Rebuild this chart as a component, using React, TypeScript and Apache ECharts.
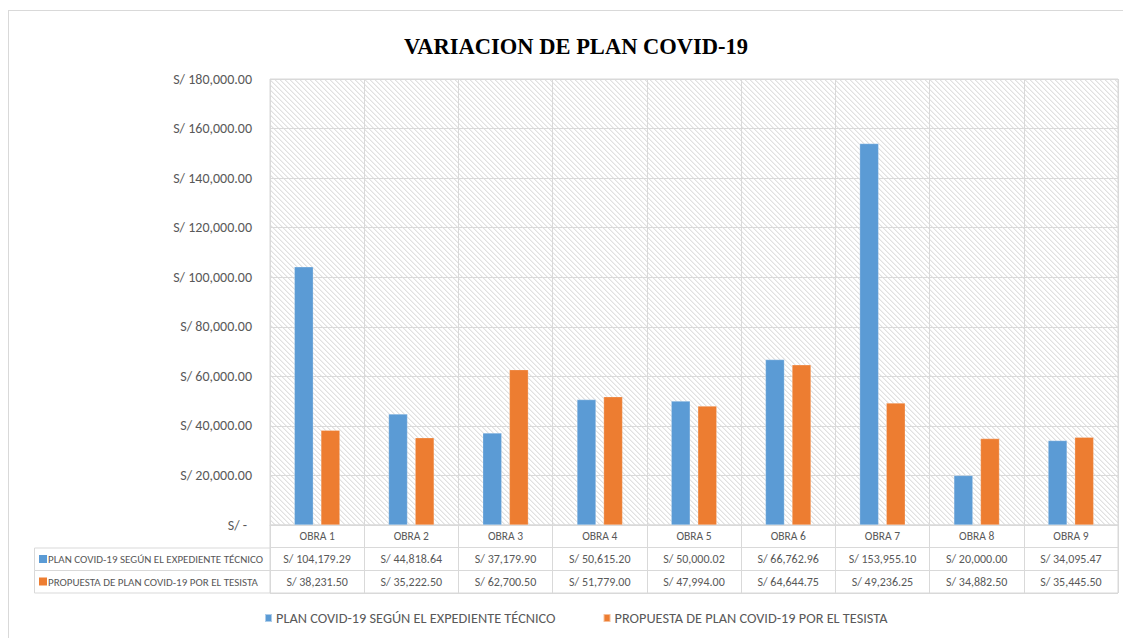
import React, { useEffect, useRef } from "react";
import * as echarts from "echarts";

const TITLE = "VARIACION DE PLAN COVID-19";
const categories = ["OBRA 1", "OBRA 2", "OBRA 3", "OBRA 4", "OBRA 5", "OBRA 6", "OBRA 7", "OBRA 8", "OBRA 9"];
const seriesNames = [
  "PLAN COVID-19 SEGÚN EL EXPEDIENTE TÉCNICO",
  "PROPUESTA DE PLAN COVID-19 POR EL TESISTA",
];
const expediente = [104179.29, 44818.64, 37179.9, 50615.2, 50000.02, 66762.96, 153955.1, 20000.0, 34095.47];
const tesista = [38231.5, 35222.5, 62700.5, 51779.0, 47994.0, 64644.75, 49236.25, 34882.5, 35445.5];
const seriesColors = ["#5B9BD5", "#ED7D31"];
const yMin = 0;
const yMax = 180000;
const yInterval = 20000;

const FONT = "Carlito, 'Liberation Sans Narrow', 'Open Sans', sans-serif";
const GRID_C = "#d9d9d9";
const TEXT_C = "#595959";

function money(v: number): string {
  const fixed = v.toFixed(2);
  const [ip, dp] = fixed.split(".");
  const withCommas = ip.replace(/\B(?=(\d{3})+(?!\d))/g, ",");
  return "S/ " + withCommas + "." + dp;
}

function makeHatch(): string {
  const size = 5;
  const c = document.createElement("canvas");
  c.width = size;
  c.height = size;
  const ctx = c.getContext("2d")!;
  const img = ctx.createImageData(size, size);
  for (let y = 0; y < size; y++) {
    for (let x = 0; x < size; x++) {
      const d = (((x - y) % size) + size) % size;
      let v = 255;
      if (d === 0) v = 225;
      else if (d === 1) v = 240;
      const i = (y * size + x) * 4;
      img.data[i] = v;
      img.data[i + 1] = v;
      img.data[i + 2] = v;
      img.data[i + 3] = 255;
    }
  }
  ctx.putImageData(img, 0, 0);
  return c.toDataURL();
}

export default function App() {
  const ref = useRef<HTMLDivElement>(null);
  useEffect(() => {
    if (!ref.current) return;
    const chart = echarts.init(ref.current, undefined, { renderer: "svg" });
    const hatch = { image: makeHatch(), repeat: "repeat", imageWidth: 5, imageHeight: 5 };

    const cellData: number[][] = [];
    categories.forEach((_, i) => {
      cellData.push([i, 0]);
      cellData.push([i, 1]);
      cellData.push([i, 2]);
    });

    const option: any = {
      animation: false,
      backgroundColor: "#ffffff",
      title: {
        text: TITLE,
        left: 571,
        top: 30,
        textAlign: "center",
        textStyle: { fontFamily: "'Liberation Serif', 'Times New Roman', serif", fontWeight: "bold", fontSize: 22.5, color: "#000" },
      },
      legend: {
        left: 259,
        top: 606,
        itemWidth: 7,
        itemHeight: 8,
        itemGap: 47,
        icon: "rect",
        textStyle: { fontFamily: FONT, fontSize: 14.3, color: TEXT_C, padding: [0, 0, 0, -1] },
        data: seriesNames,
      },
      grid: [
        { left: 270, top: 79, width: 848, height: 446, show: true, backgroundColor: hatch, borderColor: GRID_C, borderWidth: 1 },
        { left: 270, top: 525, width: 848, height: 68, show: true, backgroundColor: "#fff", borderColor: GRID_C, borderWidth: 1 },
      ],
      xAxis: [
        {
          type: "category",
          gridIndex: 0,
          data: categories,
          axisLabel: { show: false },
          axisTick: { show: false },
          axisLine: { lineStyle: { color: GRID_C } },
          splitLine: { show: true, lineStyle: { color: GRID_C, width: 1 } },
        },
        {
          type: "category",
          gridIndex: 1,
          data: categories,
          axisLabel: { show: false },
          axisTick: { show: false },
          axisLine: { show: false },
          splitLine: { show: true, lineStyle: { color: GRID_C, width: 1 } },
        },
      ],
      yAxis: [
        {
          type: "value",
          gridIndex: 0,
          min: yMin,
          max: yMax,
          interval: yInterval,
          axisLine: { show: false },
          axisTick: { show: false },
          splitLine: { show: true, lineStyle: { color: GRID_C, width: 1 } },
          axisLabel: {
            margin: 18,
            fontFamily: FONT,
            fontSize: 14,
            color: TEXT_C,
            formatter: (v: number) => (v === 0 ? "{z|S/ -}" : money(v)),
            rich: { z: { fontFamily: FONT, fontSize: 14, color: TEXT_C, padding: [0, 5, 0, 0] } },
          },
        },
        {
          type: "category",
          gridIndex: 1,
          inverse: true,
          data: ["head", "s1", "s2"],
          axisLabel: { show: false },
          axisTick: { show: false },
          axisLine: { show: false },
          splitLine: { show: true, lineStyle: { color: GRID_C, width: 1 } },
        },
      ],
      series: [
        {
          name: seriesNames[0],
          type: "bar",
          xAxisIndex: 0,
          yAxisIndex: 0,
          data: expediente,
          barWidth: 19,
          barGap: "40%",
          itemStyle: { color: seriesColors[0], borderColor: "rgba(255,255,255,0.5)", borderWidth: 0.5 },
        },
        {
          name: seriesNames[1],
          type: "bar",
          xAxisIndex: 0,
          yAxisIndex: 0,
          data: tesista,
          barWidth: 19,
          barGap: "40%",
          itemStyle: { color: seriesColors[1], borderColor: "rgba(255,255,255,0.5)", borderWidth: 0.5 },
        },
        {
          type: "custom",
          xAxisIndex: 1,
          yAxisIndex: 1,
          data: cellData,
          silent: true,
          renderItem: (params: any, api: any) => {
            const cat = api.value(0);
            const row = api.value(1);
            const p = api.coord([cat, row]);
            const text = row === 0 ? categories[cat] : money(row === 1 ? expediente[cat] : tesista[cat]);
            return {
              type: "text",
              x: p[0],
              y: p[1],
              style: {
                text,
                align: "center",
                verticalAlign: "middle",
                fill: TEXT_C,
                fontFamily: FONT,
                fontSize: row === 0 ? 11.5 : 12,
              },
            };
          },
        },
      ],
      graphic: [
        { type: "line", shape: { x1: 8, y1: 10.5, x2: 1123, y2: 10.5 }, style: { stroke: GRID_C, lineWidth: 1 }, silent: true },
        { type: "line", shape: { x1: 8.5, y1: 10, x2: 8.5, y2: 638 }, style: { stroke: GRID_C, lineWidth: 1 }, silent: true },
        { type: "rect", shape: { x: 34.5, y: 548, width: 235.5, height: 22.5 }, style: { fill: "#fff", stroke: GRID_C, lineWidth: 1 }, silent: true },
        { type: "rect", shape: { x: 34.5, y: 570.5, width: 235.5, height: 22.5 }, style: { fill: "#fff", stroke: GRID_C, lineWidth: 1 }, silent: true },
        { type: "rect", shape: { x: 39, y: 555, width: 8, height: 8 }, style: { fill: seriesColors[0] }, silent: true },
        { type: "rect", shape: { x: 39, y: 577.5, width: 8, height: 8 }, style: { fill: seriesColors[1] }, silent: true },
        { type: "text", x: 48, y: 559.5, style: { text: seriesNames[0], fill: TEXT_C, fontFamily: FONT, fontSize: 11, verticalAlign: "middle" }, silent: true },
        { type: "text", x: 48, y: 582, style: { text: seriesNames[1], fill: TEXT_C, fontFamily: FONT, fontSize: 11, verticalAlign: "middle" }, silent: true },
      ],
    };
    chart.setOption(option);
    return () => chart.dispose();
  }, []);
  return <div ref={ref} style={{ position: "absolute", left: 0, top: 0, width: 1123, height: 638 }} />;
}
